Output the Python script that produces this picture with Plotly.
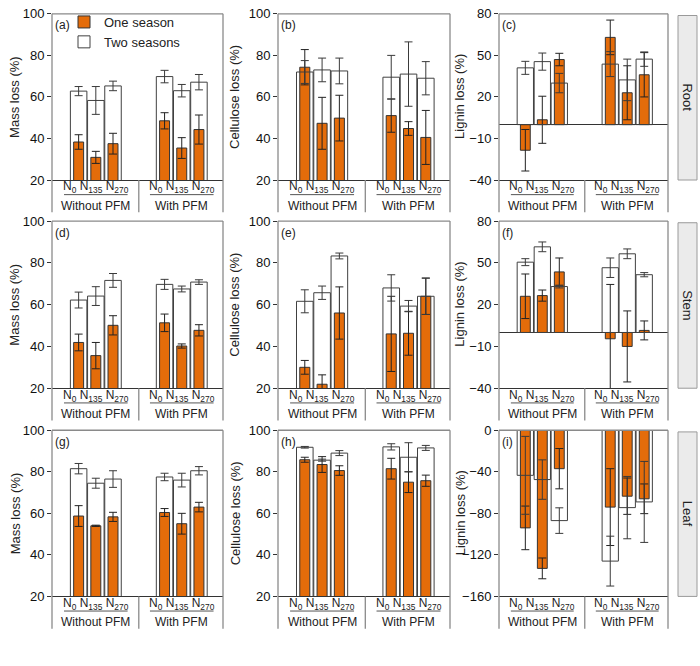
import plotly.graph_objects as go

# ---------------- data ----------------
groups = ["Without PFM", "With PFM"]
n_levels = ["N<sub>0</sub>", "N<sub>135</sub>", "N<sub>270</sub>"]
series_names = ["One season", "Two seasons"]
organs = ["Root", "Stem", "Leaf"]
panel_tags = ["(a)", "(b)", "(c)", "(d)", "(e)", "(f)", "(g)", "(h)", "(i)"]
y_titles = ["Mass loss (%)", "Cellulose loss (%)", "Lignin loss (%)"]

# order within each list: Without PFM N0, N135, N270, With PFM N0, N135, N270
mass_root_one = [38.3, 30.9, 37.5, 48.5, 35.4, 44.3]
mass_root_one_err = [3.5, 2.9, 5.0, 3.9, 5.0, 7.0]
mass_root_two = [62.8, 58.3, 65.3, 69.8, 63.0, 67.1]
mass_root_two_err = [2.2, 6.7, 2.3, 3.0, 3.0, 3.7]

cell_root_one = [74.3, 47.3, 49.8, 51.0, 44.8, 40.5]
cell_root_one_err = [8.5, 12.5, 11.0, 8.0, 3.3, 13.0]
cell_root_two = [72.0, 73.0, 72.5, 69.5, 71.0, 69.0]
cell_root_two_err = [5.5, 5.7, 6.2, 10.5, 15.5, 8.0]

lig_root_one = [-18.5, 3.5, 47.0, 63.0, 23.0, 36.0]
lig_root_one_err = [15.0, 17.0, 4.5, 12.5, 19.5, 16.0]
lig_root_two = [41.0, 45.5, 30.0, 43.7, 32.3, 47.3]
lig_root_two_err = [4.7, 6.2, 7.0, 9.0, 15.0, 5.2]

mass_stem_one = [41.9, 35.6, 50.1, 51.3, 40.2, 47.7]
mass_stem_one_err = [4.0, 6.3, 4.6, 4.2, 1.0, 2.7]
mass_stem_two = [62.2, 64.1, 71.6, 69.7, 67.5, 70.8]
mass_stem_two_err = [3.8, 4.5, 3.3, 2.4, 1.4, 1.1]

cell_stem_one = [30.0, 21.9, 56.0, 46.0, 46.3, 64.0]
cell_stem_one_err = [3.3, 4.5, 12.5, 18.0, 10.5, 8.7]
cell_stem_two = [61.6, 65.7, 83.3, 68.0, 59.3, 64.0]
cell_stem_two_err = [5.5, 3.2, 1.4, 6.3, 2.7, 8.7]

lig_stem_one = [26.0, 26.5, 43.5, -4.5, -10.0, 1.5]
lig_stem_one_err = [16.0, 4.0, 10.0, 39.0, 25.5, 6.8]
lig_stem_two = [50.5, 61.5, 33.0, 46.5, 56.5, 41.5]
lig_stem_two_err = [2.5, 3.5, 1.0, 7.0, 3.5, 1.5]

mass_leaf_one = [58.7, 54.0, 58.3, 60.4, 55.0, 63.0]
mass_leaf_one_err = [5.0, 0.3, 2.2, 1.9, 5.0, 2.3]
mass_leaf_two = [81.5, 74.5, 76.5, 77.5, 76.0, 80.5]
mass_leaf_two_err = [2.5, 2.4, 4.0, 1.8, 3.3, 2.0]

cell_leaf_one = [85.8, 83.5, 80.6, 81.5, 75.0, 75.7]
cell_leaf_one_err = [1.2, 3.8, 2.3, 5.0, 5.0, 2.7]
cell_leaf_two = [91.8, 85.6, 89.0, 92.0, 87.0, 91.5]
cell_leaf_two_err = [0.4, 0.5, 1.2, 1.5, 7.0, 1.2]

lig_leaf_one = [-94.0, -133.0, -37.0, -74.0, -63.5, -66.0]
lig_leaf_one_err = [21.0, 10.0, 19.4, 37.0, 17.5, 14.3]
lig_leaf_two = [-43.4, -47.5, -87.0, -126.0, -74.5, -69.0]
lig_leaf_two_err = [37.5, 19.0, 12.3, 24.0, 30.0, 39.0]

mass_ticks = [20, 40, 60, 80, 100]
lig_ticks = [-40, -10, 20, 50, 80]
lig_leaf_ticks = [-160, -120, -80, -40, 0]

panels = [
    [(mass_root_one, mass_root_one_err, mass_root_two, mass_root_two_err, mass_ticks),
     (cell_root_one, cell_root_one_err, cell_root_two, cell_root_two_err, mass_ticks),
     (lig_root_one, lig_root_one_err, lig_root_two, lig_root_two_err, lig_ticks)],
    [(mass_stem_one, mass_stem_one_err, mass_stem_two, mass_stem_two_err, mass_ticks),
     (cell_stem_one, cell_stem_one_err, cell_stem_two, cell_stem_two_err, mass_ticks),
     (lig_stem_one, lig_stem_one_err, lig_stem_two, lig_stem_two_err, lig_ticks)],
    [(mass_leaf_one, mass_leaf_one_err, mass_leaf_two, mass_leaf_two_err, mass_ticks),
     (cell_leaf_one, cell_leaf_one_err, cell_leaf_two, cell_leaf_two_err, mass_ticks),
     (lig_leaf_one, lig_leaf_one_err, lig_leaf_two, lig_leaf_two_err, lig_leaf_ticks)],
]

# ---------------- layout / style ----------------
W, H = 700, 666
ORANGE = "#E46C0A"
DARK = "#333333"
FRAME = "#8a8a8a"
FONT = "Liberation Sans, Arial, sans-serif"

col_px = [(52, 223), (278, 450), (499, 668)]
row_px = [(7, 177), (219, 390), (433, 603)]
EXT_PX = 33
GROUP_STEP = 5
x_pos = [g * GROUP_STEP + i for g in range(len(groups)) for i in range(len(n_levels))]
X_RANGE = [-1.55, 8.4]
ytitle_x = [15, 235, 460]
level_text = " ".join(n_levels)

fig = go.Figure()
shapes = []
annotations = []
layout_axes = {}

for r in range(3):
    for c in range(3):
        k = r * 3 + c
        sfx = "" if k == 0 else str(k + 1)
        xa, ya = "x" + sfx, "y" + sfx
        one, one_err, two, two_err, ticks = panels[r][c]

        fig.add_trace(go.Bar(
            x=x_pos, y=one, width=0.58, name=series_names[0],
            marker=dict(color=ORANGE, line=dict(color=DARK, width=1)),
            error_y=dict(type="data", array=one_err, color="#222222", thickness=1, width=4),
            showlegend=(k == 0), legendgroup="one", xaxis=xa, yaxis=ya))
        fig.add_trace(go.Bar(
            x=x_pos, y=two, width=0.96, name=series_names[1],
            marker=dict(color="rgba(255,255,255,0)", line=dict(color="#404040", width=1)),
            error_y=dict(type="data", array=two_err, color="#3a3a3a", thickness=1, width=4),
            showlegend=(k == 0), legendgroup="two", xaxis=xa, yaxis=ya))

        l, rr = col_px[c]
        t, b = row_px[r]
        ext = EXT_PX / (b - t)
        layout_axes["xaxis" + sfx] = dict(
            domain=[l / W, rr / W], range=X_RANGE, anchor=ya,
            tickvals=x_pos, showticklabels=False, ticks="",
            showline=True, linecolor=DARK, linewidth=1, showgrid=False, zeroline=False,
            fixedrange=True)
        layout_axes["yaxis" + sfx] = dict(
            domain=[1 - b / H, 1 - t / H], range=[ticks[0], ticks[-1]], anchor=xa,
            tickvals=ticks, ticks="outside", ticklen=4, tickcolor=DARK, tickwidth=1,
            showline=False, showgrid=False,
            zeroline=(c == 2), zerolinecolor=DARK, zerolinewidth=1,
            tickfont=dict(size=13, color="#111111", family=FONT), fixedrange=True)

        xd, yd = xa + " domain", ya + " domain"
        line_frame = dict(color=FRAME, width=1.3)
        # frame
        shapes.append(dict(type="line", xref=xd, yref=yd, x0=0, x1=0, y0=1, y1=-ext, line=line_frame))
        shapes.append(dict(type="line", xref=xd, yref=yd, x0=1, x1=1, y0=1, y1=-ext, line=line_frame))
        shapes.append(dict(type="line", xref=xd, yref=yd, x0=0, x1=1, y0=1, y1=1, line=line_frame))
        # divider between groups
        mid = (x_pos[2] + x_pos[3]) / 2
        shapes.append(dict(type="line", xref=xa, yref=yd, x0=mid, x1=mid, y0=0, y1=-ext, line=line_frame))
        for g in range(len(groups)):
            gc = x_pos[g * 3 + 1]
            annotations.append(dict(text=level_text, xref=xa, yref=yd, x=gc, y=-0.045,
                                    showarrow=False, xanchor="center", yanchor="middle",
                                    font=dict(size=12, color="#222222", family=FONT)))
            shapes.append(dict(type="line", xref=xa, yref=yd, x0=gc - 1.85, x1=gc + 1.85,
                               y0=-0.088, y1=-0.088, line=dict(color="#555555", width=1)))
            annotations.append(dict(text=groups[g], xref=xa, yref=yd, x=gc, y=-0.155,
                                    showarrow=False, xanchor="center", yanchor="middle",
                                    font=dict(size=12, color="#222222", family=FONT)))
        # panel tag
        annotations.append(dict(text=panel_tags[k], xref=xd, yref=yd, x=0.008, y=0.985,
                                showarrow=False, xanchor="left", yanchor="top",
                                font=dict(size=12, color="#222222", family=FONT)))
        # y title
        annotations.append(dict(text=y_titles[c], xref="paper", yref=yd, x=ytitle_x[c] / W, y=0.5,
                                showarrow=False, textangle=-90, xanchor="center", yanchor="middle",
                                font=dict(size=13, color="#222222", family=FONT)))
        # strip on the right
        if c == 2:
            shapes.append(dict(type="rect", xref="paper", yref=yd, x0=678 / W, x1=697 / W,
                               y0=0, y1=0.99, fillcolor="#ebebeb", line=dict(color="#9a9a9a", width=1)))
            annotations.append(dict(text=organs[r], xref="paper", yref=yd, x=687.5 / W, y=0.5,
                                    showarrow=False, textangle=90, xanchor="center", yanchor="middle",
                                    font=dict(size=13, color="#222222", family=FONT)))

fig.update_layout(
    width=W, height=H,
    margin=dict(l=0, r=0, t=0, b=0),
    paper_bgcolor="white", plot_bgcolor="white",
    barmode="overlay",
    font=dict(family=FONT, size=13, color="#222222"),
    showlegend=True,
    legend=dict(x=64 / W, y=1.0, xanchor="left", yanchor="top",
                bgcolor="rgba(0,0,0,0)", font=dict(size=13, family=FONT, color="#222222"),
                itemwidth=30, tracegroupgap=0, traceorder="normal"),
    shapes=shapes, annotations=annotations,
    **layout_axes,
)

fig.write_html("out.html", config={"displayModeBar": False},
               post_script="document.body.style.margin='0px';document.body.style.overflow='hidden';")
